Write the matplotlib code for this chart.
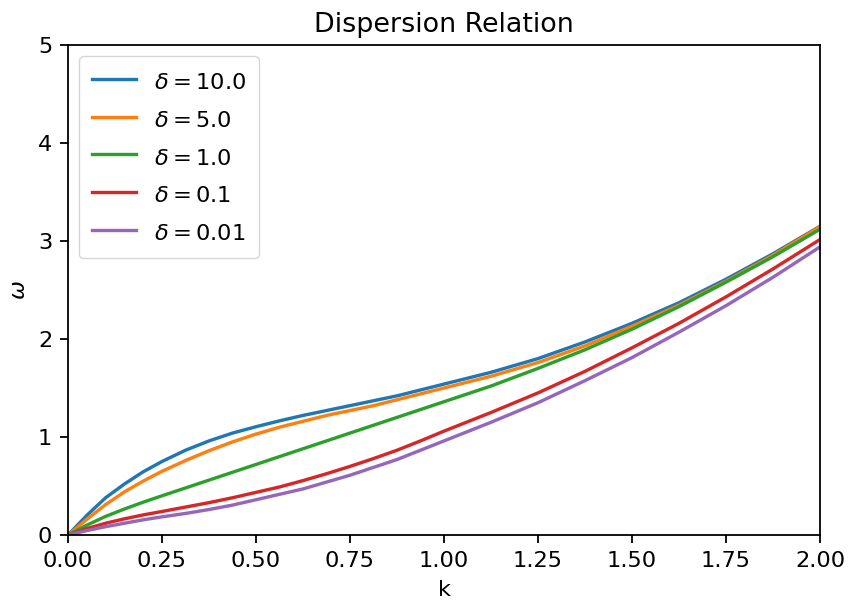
import matplotlib
matplotlib.use('Agg')
import matplotlib.pyplot as plt

# valores
k = [0, 0.05, 0.1, 0.15, 0.2, 0.25,
     0.3125, 0.375, 0.4375, 0.5, 0.5625, 0.625, 0.6875, 0.75,
     0.8125, 0.875, 0.9375, 1.0,
     1.125, 1.25, 1.375, 1.5, 1.625, 1.75, 1.875, 2.0]

deltas = ['10.0', '5.0', '1.0', '0.1', '0.01']

w_d10 = [0, 0.20, 0.38, 0.52, 0.645, 0.75,
         0.865, 0.96, 1.04, 1.105, 1.165, 1.22, 1.27, 1.32,
         1.37, 1.42, 1.48, 1.54,
         1.66, 1.80, 1.97, 2.16, 2.37, 2.61, 2.87, 3.15]
w_d5 = [0, 0.16, 0.31, 0.44, 0.55, 0.65,
        0.76, 0.86, 0.95, 1.03, 1.10, 1.16, 1.22, 1.27,
        1.32, 1.38, 1.44, 1.50,
        1.62, 1.76, 1.93, 2.13, 2.345, 2.59, 2.855, 3.145]
w_d1 = [0, 0.10, 0.19, 0.265, 0.335, 0.40,
        0.48, 0.56, 0.64, 0.72, 0.80, 0.88, 0.96, 1.04,
        1.12, 1.20, 1.28, 1.36,
        1.52, 1.70, 1.89, 2.10, 2.33, 2.58, 2.84, 3.12]
w_d01 = [0, 0.065, 0.12, 0.165, 0.205, 0.24,
         0.285, 0.33, 0.38, 0.435, 0.49, 0.555, 0.625, 0.70,
         0.78, 0.865, 0.96, 1.06,
         1.25, 1.45, 1.67, 1.91, 2.16, 2.43, 2.715, 3.015]
w_d001 = [0, 0.045, 0.085, 0.12, 0.155, 0.185,
          0.22, 0.26, 0.305, 0.36, 0.415, 0.47, 0.54, 0.61,
          0.69, 0.77, 0.865, 0.96,
          1.15, 1.35, 1.575, 1.81, 2.07, 2.34, 2.63, 2.94]

series = [w_d10, w_d5, w_d1, w_d01, w_d001]

esc = 1.617  # escala do notebook original
plt.rcParams['font.size'] = 10 * esc
plt.rcParams['lines.linewidth'] = 1.5 * esc
plt.rcParams['axes.linewidth'] = 0.8 * esc
for eixo in ['xtick', 'ytick']:
    plt.rcParams[eixo + '.major.size'] = 3.5 * esc
    plt.rcParams[eixo + '.major.width'] = 0.8 * esc
    plt.rcParams[eixo + '.major.pad'] = 3.5 * esc

fig = plt.figure(figsize=(8.52, 6.07), dpi=100)
ax = fig.add_axes([68 / 852, 1 - 535 / 607, 752 / 852, 490 / 607])

for d, w in zip(deltas, series):
    ax.plot(k, w, label=r'$\delta = ' + d + '$')

ax.set_xlim(0, 2)
ax.set_ylim(0, 5)
ax.set_xticks([0, 0.25, 0.5, 0.75, 1.0, 1.25, 1.5, 1.75, 2.0])
ax.set_title('Dispersion Relation', pad=6 * esc)
ax.set_xlabel('k', labelpad=4 * esc)
ax.set_ylabel(r'$\omega$', labelpad=4 * esc)
ax.legend(loc='upper left', handleheight=1.45, labelspacing=0.49,
          borderpad=0.55)

fig.savefig('out.png', dpi=100)
